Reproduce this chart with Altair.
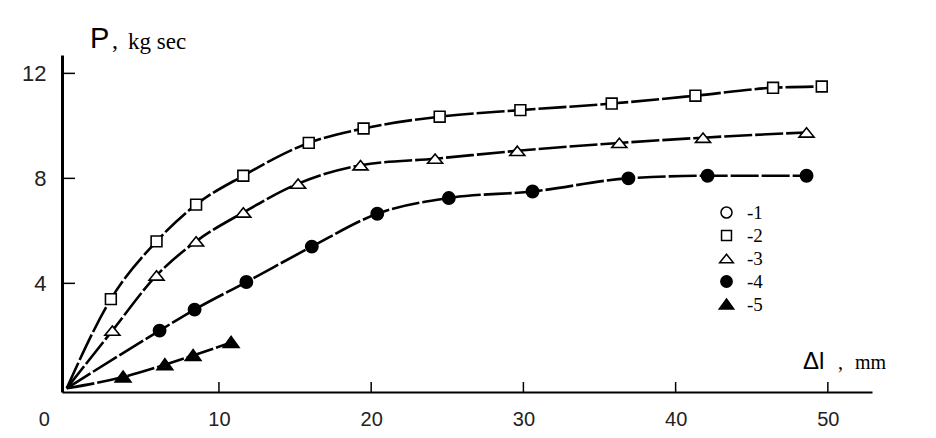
import altair as alt
import pandas as pd

# ---------------- data ----------------
series_ids = ["1", "2", "3", "4", "5"]

dl_2 = [2.9, 5.9, 8.5, 11.6, 15.9, 19.5, 24.5, 29.8, 35.8, 41.3, 46.4, 49.6]
P_2 = [3.4, 5.6, 7.0, 8.1, 9.35, 9.9, 10.35, 10.6, 10.85, 11.15, 11.45, 11.5]

dl_3 = [3.0, 5.9, 8.5, 11.6, 15.2, 19.3, 24.2, 29.6, 36.3, 41.8, 48.6]
P_3 = [2.2, 4.3, 5.6, 6.7, 7.8, 8.5, 8.75, 9.05, 9.35, 9.55, 9.75]

dl_4 = [6.1, 8.4, 11.8, 16.1, 20.4, 25.1, 30.6, 36.9, 42.1, 48.6]
P_4 = [2.2, 3.0, 4.05, 5.4, 6.65, 7.25, 7.5, 8.0, 8.1, 8.1]

dl_5 = [3.7, 6.45, 8.3, 10.8]
P_5 = [0.43, 0.9, 1.25, 1.75]

x_tick_labels = [0, 10, 20, 30, 40, 50]
x_inner_ticks = [10, 20, 30, 40, 50]
y_tick_labels = [4, 8, 12]
title_parts = ["P", ",", "kg sec", "\u0394l", ",", "mm"]

# ---------------- styles ----------------
shape_paths = [
    "M0.8,0 A0.8,0.8 0 1,1 -0.8,0 A0.8,0.8 0 1,1 0.8,0 Z",      # open circle
    "M-0.72,-0.72 H0.72 V0.72 H-0.72 Z",                        # open square
    "M0,-0.62 L1,0.62 L-1,0.62 Z",                              # open triangle
    "M0.82,0 A0.82,0.82 0 1,1 -0.82,0 A0.82,0.82 0 1,1 0.82,0 Z",  # filled circle
    "M0,-0.8 L1.05,0.66 L-1.05,0.66 Z",                         # filled triangle
]
fill_colors = ["white", "white", "white", "black", "black"]
stroke_colors = ["black", "black", "black", "black", "black"]

rows = []
for sid, xs, ys in [("2", dl_2, P_2), ("3", dl_3, P_3), ("4", dl_4, P_4), ("5", dl_5, P_5)]:
    for xv, yv in zip(xs, ys):
        rows.append({"series": sid, "dl": xv, "P": yv})
points = pd.DataFrame(rows)
origin = pd.DataFrame([{"series": s, "dl": 0.0, "P": 0.0} for s in ["2", "3", "4", "5"]])
lines = pd.concat([origin, points], ignore_index=True)

W, H = 810, 337
xscale = alt.Scale(domain=[-0.31, 52.9], nice=False, zero=False)
yscale = alt.Scale(domain=[-0.14, 12.7], nice=False, zero=False)

x_axis = alt.Axis(
    values=x_tick_labels, title=None, grid=False, ticks=False, tickSize=0,
    domainColor="black", domainWidth=2, labelFont="Liberation Sans",
    labelFontSize=20, labelColor="#222", labelPadding=17, labelFlush=False,
    labelOverlap=False,
    labelOffset=alt.condition("datum.value == 0", alt.value(-23), alt.value(0)),
)
y_axis = alt.Axis(
    values=y_tick_labels, title=None, grid=False, ticks=False, tickSize=0,
    domainColor="black", domainWidth=3, labelFont="Liberation Sans",
    labelFontSize=22, labelColor="#222", labelPadding=16, labelFlush=False,
    labelOverlap=False,
)

legend = alt.Legend(
    title=None, orient="none", legendX=655, legendY=148, padding=0,
    labelFont="Liberation Serif", labelFontSize=19, labelColor="black",
    symbolSize=190, symbolStrokeColor="black", symbolStrokeWidth=1.5,
    symbolOpacity=1, labelOffset=11, rowPadding=3,
    labelExpr="'-' + datum.label",
)

line_layer = alt.Chart(lines).mark_line(
    color="black", strokeWidth=2.6, interpolate="monotone", strokeDash=[28, 3]
).encode(
    x=alt.X("dl:Q", scale=xscale, axis=x_axis),
    y=alt.Y("P:Q", scale=yscale, axis=y_axis),
    detail="series:N",
    order="dl:Q",
)

point_layer = alt.Chart(points).mark_point(
    filled=True, strokeWidth=1.6, opacity=1, size=225
).encode(
    x=alt.X("dl:Q", scale=xscale),
    y=alt.Y("P:Q", scale=yscale),
    shape=alt.Shape("series:N", scale=alt.Scale(domain=series_ids, range=shape_paths), legend=legend),
    fill=alt.Fill("series:N", scale=alt.Scale(domain=series_ids, range=fill_colors), legend=legend),
    stroke=alt.Stroke("series:N", scale=alt.Scale(domain=series_ids, range=stroke_colors), legend=legend),
)

xt = alt.Chart(pd.DataFrame({"v": x_inner_ticks})).mark_rule(color="black", strokeWidth=1.5).encode(
    x=alt.X("v:Q", scale=xscale), y=alt.value(H), y2=alt.value(H - 10)
)
yt = alt.Chart(pd.DataFrame({"v": y_tick_labels})).mark_rule(color="black", strokeWidth=1.5).encode(
    y=alt.Y("v:Q", scale=yscale), x=alt.value(0), x2=alt.value(13)
)


def label(text, x, y, font, size):
    return alt.Chart(pd.DataFrame({"t": [text]})).mark_text(
        align="left", baseline="alphabetic", font=font, fontSize=size, color="black"
    ).encode(x=alt.value(x), y=alt.value(y), text="t:N")


texts = [
    label(title_parts[0], 28, -7, "Liberation Sans", 29),
    label(title_parts[1], 50, -7, "Liberation Serif", 24),
    label(title_parts[2], 66, -6, "Liberation Serif", 23),
    label(title_parts[3], 741, 314, "Liberation Sans", 24),
    label(title_parts[4], 776, 314, "Liberation Serif", 20),
    label(title_parts[5], 793, 314, "Liberation Serif", 20),
]

chart = alt.layer(line_layer, point_layer, xt, yt, *texts).properties(
    width=W, height=H,
    autosize=alt.AutoSizeParams(type="none"),
    padding={"left": 54, "top": 47, "right": 40, "bottom": 36},
    background="white",
).configure_view(stroke=None)

chart.save("out.html", embed_options={"renderer": "svg", "actions": False})
